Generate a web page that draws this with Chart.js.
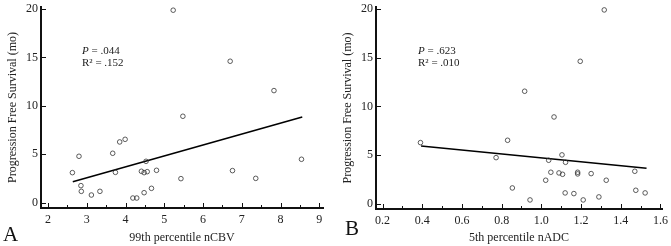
<!DOCTYPE html>
<html>
<head>
<meta charset="utf-8">
<script src="https://cdn.jsdelivr.net/npm/chart.js@4.4.1/dist/chart.umd.min.js"></script>
<style>
  body { margin: 0; background: #fff; }
  #wrap { position: relative; width: 671px; height: 246px; overflow: hidden; }
  canvas { position: absolute; top: 0; }
  .note { position: absolute; font-family: "Liberation Serif", serif; font-size: 11px; line-height: 12px; color: #222; white-space: nowrap; }
  .panel { position: absolute; font-family: "Liberation Serif", serif; font-size: 21px; line-height: 21px; color: #111; }
</style>
</head>
<body>
<div id="wrap">
  <canvas id="chartA" width="335" height="246" style="left:0"></canvas>
  <canvas id="chartB" width="336" height="246" style="left:335px"></canvas>
  <div class="note" style="left:82px;top:44px"><i>P</i> = .044<br>R² = .152</div>
  <div class="note" style="left:418px;top:44px"><i>P</i> = .623<br>R² = .010</div>
  <div class="panel" style="left:3px;top:224px">A</div>
  <div class="panel" style="left:345px;top:218px">B</div>
</div>
<script>
// panel A: 99th percentile nCBV vs PFS
const cbvX = [5.23, 6.70, 7.83, 5.48, 3.99, 3.85, 3.67, 2.80, 4.53, 8.54, 2.63, 3.74, 4.41, 4.48,
  4.56, 4.80, 6.76, 7.36, 5.43, 2.85, 2.86, 3.12, 3.34, 4.48, 4.67, 4.19, 4.29];
const cbvPfs = [19.87, 14.6, 11.57, 8.92, 6.54, 6.27, 5.10, 4.79, 4.27, 4.48, 3.10, 3.13, 3.24, 3.10,
  3.20, 3.34, 3.31, 2.51, 2.48, 1.76, 1.17, 0.79, 1.17, 1.03, 1.48, 0.48, 0.48];
const cbvFitX = [2.64, 8.56];
const cbvFitY = [2.17, 8.85];

// panel B: 5th percentile nADC vs PFS
const adcX = [1.317, 1.196, 0.916, 1.064, 0.830, 0.391, 0.772, 1.104, 1.037, 1.122, 1.471, 1.048, 1.089, 1.107,
  1.183, 1.183, 1.251, 1.022, 1.327, 0.854, 1.120, 1.164, 1.476, 1.523, 0.943, 1.211, 1.290];
const adcPfs = [19.9, 14.63, 11.56, 8.92, 6.53, 6.29, 4.75, 5.03, 4.48, 4.27, 3.35, 3.25, 3.18, 3.04,
  3.25, 3.08, 3.11, 2.43, 2.43, 1.64, 1.13, 1.06, 1.40, 1.13, 0.41, 0.41, 0.72];
const adcFitX = [0.394, 1.530];
const adcFitY = [5.95, 3.66];

const pfsTicks = [0, 5, 10, 15, 20];
const cbvTicks = [2, 3, 4, 5, 6, 7, 8, 9];
const adcTicks = [0.2, 0.4, 0.6, 0.8, 1.0, 1.2, 1.4, 1.6];

const serif = 'Liberation Serif';
const ink = '#222';

// tick marks pointing into the plot, with a minor tick between the x ones
const innerTicks = {
  id: 'innerTicks',
  afterDraw(chart) {
    const { ctx, chartArea, scales } = chart;
    ctx.save();
    ctx.strokeStyle = '#111';
    ctx.lineWidth = 1;
    ctx.beginPath();
    scales.y.ticks.forEach((t) => {
      const y = Math.round(scales.y.getPixelForValue(t.value)) + 0.5;
      ctx.moveTo(chartArea.left, y);
      ctx.lineTo(chartArea.left + 5, y);
    });
    const xt = scales.x.ticks.map((t) => t.value);
    xt.forEach((v, i) => {
      const x = Math.round(scales.x.getPixelForValue(v)) + 0.5;
      ctx.moveTo(x, chartArea.bottom);
      ctx.lineTo(x, chartArea.bottom - 5);
      if (i < xt.length - 1) {
        const m = Math.round(scales.x.getPixelForValue((v + xt[i + 1]) / 2)) + 0.5;
        ctx.moveTo(m, chartArea.bottom);
        ctx.lineTo(m, chartArea.bottom - 3);
      }
    });
    ctx.stroke();
    ctx.restore();
  },
};

function makeChart(id, xs, ys, fitX, fitY, xTicks, xMin, xMax, yMin, xTitle, digits, pad) {
  const points = xs.map((x, i) => ({ x: x, y: ys[i] }));
  const fit = fitX.map((x, i) => ({ x: x, y: fitY[i] }));
  return new Chart(document.getElementById(id), {
    type: 'scatter',
    data: {
      datasets: [
        {
          data: points,
          pointRadius: 2.3,
          borderWidth: 0.8,
          borderColor: '#333',
          backgroundColor: 'rgba(255,255,255,0)',
        },
        {
          type: 'line',
          data: fit,
          showLine: true,
          pointRadius: 0,
          borderColor: '#000',
          borderWidth: 1.6,
          fill: false,
        },
      ],
    },
    options: {
      responsive: false,
      animation: false,
      devicePixelRatio: 1,
      layout: { padding: { left: 0, top: 7, right: pad.right, bottom: 0 } },
      plugins: { legend: { display: false }, tooltip: { enabled: false } },
      scales: {
        x: {
          type: 'linear',
          min: xMin,
          max: xMax,
          grid: { display: false, drawTicks: false },
          border: { display: true, color: '#111', width: 2 },
          afterBuildTicks: (s) => { s.ticks = xTicks.map((v) => ({ value: v })); },
          afterFit: (s) => { s.height = pad.xh; s.paddingLeft = 0; s.paddingRight = 0; },
          ticks: {
            padding: 5,
            color: ink,
            maxRotation: 0,
            font: { family: serif, size: 12 },
            callback: (v) => v.toFixed(digits),
          },
          title: {
            display: true,
            text: xTitle,
            color: ink,
            font: { family: serif, size: 12 },
            padding: { top: 0, bottom: 1 },
          },
        },
        y: {
          type: 'linear',
          min: yMin,
          max: 20.2,
          grid: { display: false, drawTicks: false },
          border: { display: true, color: '#111', width: 2 },
          afterBuildTicks: (s) => { s.ticks = pfsTicks.map((v) => ({ value: v })); },
          afterFit: (s) => { s.width = 41; s.paddingTop = 0; s.paddingBottom = 0; },
          ticks: {
            padding: 3,
            color: ink,
            font: { family: serif, size: 12 },
            callback: (v) => String(v),
          },
          title: {
            display: true,
            text: 'Progression Free Survival (mo)',
            color: ink,
            font: { family: serif, size: 12 },
            padding: { top: 6, bottom: 0 },
          },
        },
      },
    },
    plugins: [innerTicks],
  });
}

makeChart('chartA', cbvX, cbvPfs, cbvFitX, cbvFitY, cbvTicks, 1.82, 9.095, -0.55,
  '99th percentile nCBV', 0, { right: 12, xh: 38 });
makeChart('chartB', adcX, adcPfs, adcFitX, adcFitY, adcTicks, 0.167, 1.608, -0.52,
  '5th percentile nADC', 1, { right: 9, xh: 37 });
</script>
</body>
</html>
